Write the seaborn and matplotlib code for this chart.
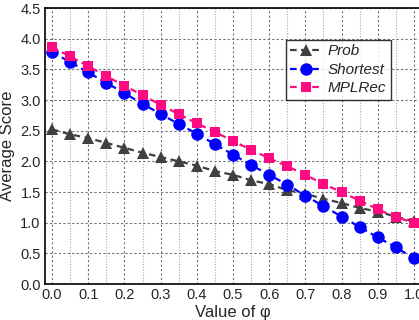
import numpy as np
import pandas as pd
import matplotlib
matplotlib.use("Agg")
import matplotlib.pyplot as plt
from matplotlib.ticker import MultipleLocator
import seaborn as sns

# values of phi
phi = [0.0, 0.05, 0.1, 0.15, 0.2, 0.25, 0.3, 0.35, 0.4, 0.45, 0.5,
       0.55, 0.6, 0.65, 0.7, 0.75, 0.8, 0.85, 0.9, 0.95, 1.0]

prob = [2.52, 2.44, 2.38, 2.30, 2.22, 2.14, 2.07, 2.00, 1.93, 1.84, 1.78,
        1.69, 1.63, 1.53, 1.47, 1.39, 1.32, 1.24, 1.18, 1.10, 1.02]
shortest = [3.78, 3.62, 3.45, 3.28, 3.11, 2.94, 2.77, 2.61, 2.45, 2.28, 2.11,
            1.94, 1.78, 1.62, 1.44, 1.27, 1.10, 0.93, 0.76, 0.60, 0.42]
mplrec = [3.86, 3.71, 3.55, 3.39, 3.23, 3.08, 2.92, 2.77, 2.62, 2.48, 2.33,
          2.19, 2.05, 1.92, 1.78, 1.63, 1.50, 1.36, 1.22, 1.09, 1.00]

series_names = ["Prob", "Shortest", "MPLRec"]
colors = ["#404040", "#0000ff", "#ff0a80"]
markers = ["^", "o", "s"]
msizes = [8.5, 9, 6.5]

sns.set_style("white")
plt.rcParams["font.family"] = ["Liberation Sans", "DejaVu Sans"]

fig = plt.figure(figsize=(4.19, 3.2), dpi=100)
ax = fig.add_axes([0.107, 0.1125, 0.898, 0.8625])

for name, vals, c, m, ms in zip(series_names, [prob, shortest, mplrec], colors, markers, msizes):
    df = pd.DataFrame({"phi": phi, "score": vals})
    sns.lineplot(data=df, x="phi", y="score", ax=ax, color=c, marker=m,
                 markersize=ms, markeredgewidth=0, linestyle=(0, (3, 2)),
                 linewidth=1.6, label=name, zorder=3)

ax.set_xlim(-0.02, 1.02)
ax.set_ylim(0, 4.5)
ax.xaxis.set_major_locator(MultipleLocator(0.1))
ax.xaxis.set_minor_locator(MultipleLocator(0.05))
ax.yaxis.set_major_locator(MultipleLocator(0.5))
ax.yaxis.set_minor_locator(MultipleLocator(0.25))
ax.set_xticklabels([f"{v:.1f}" for v in ax.get_xticks()])
ax.set_yticklabels([f"{v:.1f}" for v in ax.get_yticks()])

ax.grid(which="major", color="#707070", linestyle=(0, (2, 2)), linewidth=0.8)
ax.xaxis.grid(which="minor", color="#a8a8a8", linestyle=(0, (1, 1.5)), linewidth=0.8)
ax.set_axisbelow(True)

ax.tick_params(which="both", direction="in", top=False, right=False, labelsize=10.5, pad=3)
ax.tick_params(which="major", length=4, width=1)
ax.tick_params(which="minor", length=2.5, width=0.8)
for s in ax.spines.values():
    s.set_linewidth(1.2)
    s.set_color("black")

ax.set_xlabel("Value of φ", fontsize=12, labelpad=2)
ax.set_ylabel("Average Score", fontsize=12, labelpad=4)

leg = ax.legend(loc="upper left", bbox_to_anchor=(0.64, 0.885), frameon=True,
                fancybox=False, edgecolor="black", fontsize=11, handlelength=2.1,
                borderpad=0.3, labelspacing=0.3, handletextpad=0.35, borderaxespad=0)
leg.get_frame().set_linewidth(1.0)
for t in leg.get_texts():
    t.set_fontstyle("italic")

fig.savefig("out.png", dpi=100)
